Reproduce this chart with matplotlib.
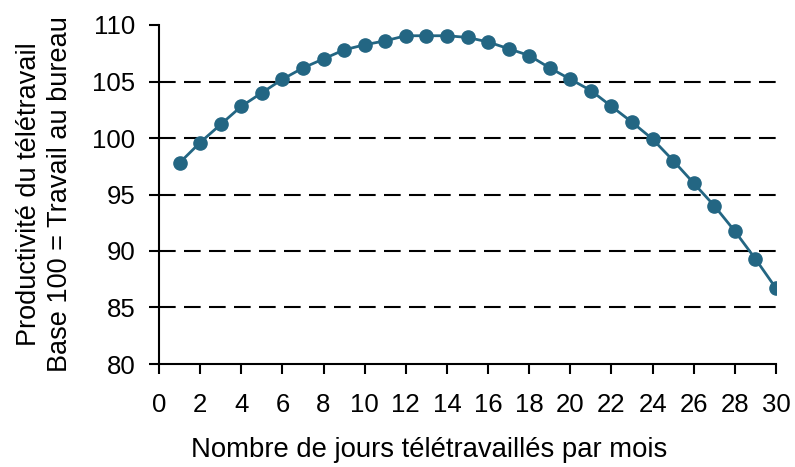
import numpy as np
import matplotlib
matplotlib.use("Agg")
import matplotlib.pyplot as plt

plt.rcParams['font.family'] = ['Liberation Sans', 'DejaVu Sans']

# jours télétravaillés par mois et productivité (base 100)
jours = list(range(1, 31))
productivite = [97.8, 99.6, 101.2, 102.8, 104.0, 105.2, 106.2, 107.0, 107.8, 108.25,
                108.6, 109.05, 109.05, 109.05, 108.9, 108.5, 107.9, 107.3, 106.2, 105.2,
                104.2, 102.8, 101.4, 99.9, 98.0, 96.0, 94.0, 91.75, 89.3, 86.7]
xticks = list(range(0, 31, 2))
yticks = [80, 85, 90, 95, 100, 105, 110]
grid_vals = [85, 90, 95, 100, 105]

fig = plt.figure(figsize=(7.95, 4.67), dpi=100)
ax = fig.add_axes([159 / 795, 1 - 364 / 467, 617 / 795, 339 / 467])

for g in grid_vals:
    ax.axhline(g, color='black', lw=1.5, linestyle=(0, (8, 4)), zorder=1)

ax.plot(jours, productivite, color='#236683', lw=2, marker='o', markersize=9.5, zorder=3)

ax.set_xlim(0, 30)
ax.set_ylim(80, 110)
ax.set_xticks(xticks)
ax.set_yticks(yticks)
ax.spines['top'].set_visible(False)
ax.spines['right'].set_visible(False)
for s in ['left', 'bottom']:
    ax.spines[s].set_linewidth(1.5)
ax.tick_params(axis='y', direction='out', length=7, width=1.5, labelsize=18.5, pad=10)
ax.tick_params(axis='x', direction='out', length=7, width=1.5, labelsize=18.5, pad=14)

ax.set_xlabel("Nombre de jours télétravaillés par mois", fontsize=19.8)
ax.xaxis.set_label_coords(0.437, -0.215)
ax.set_ylabel("Productivité du télétravail\nBase 100 = Travail au bureau",
              fontsize=19.5, linespacing=1.25)
ax.yaxis.set_label_coords(-0.14, 0.5)

fig.savefig("out.png", dpi=100)
